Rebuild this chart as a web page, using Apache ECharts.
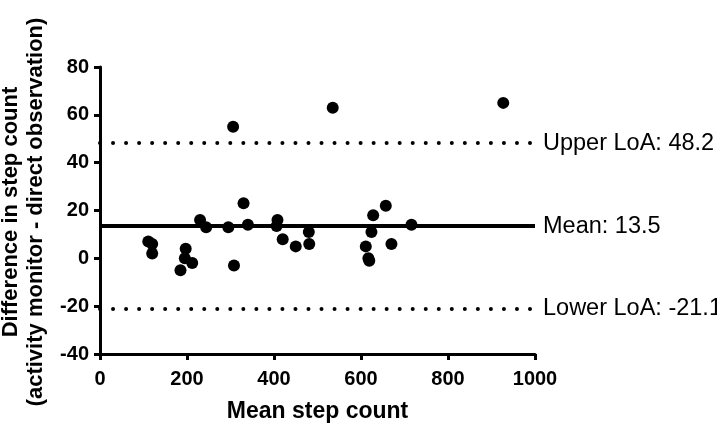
<!DOCTYPE html>
<html>
<head>
<meta charset="utf-8">
<script src="https://cdn.jsdelivr.net/npm/echarts@6/dist/echarts.min.js"></script>
<style>
html,body{margin:0;padding:0;background:#fff;}
#chart{width:717px;height:428px;}
</style>
</head>
<body>
<div id="chart"></div>
<script>
// Mean step count (x) and difference (y) for each participant
var meanSteps = [111, 120, 120, 185, 195, 197, 212, 230, 244, 295, 306, 308, 330, 340, 406, 408, 420, 450, 480, 481, 535, 611, 617, 619, 624, 628, 657, 670, 716, 927];
var diffSteps = [7, 6, 2, -5, 0, 4, -2, 16, 13, 13, 55, -3, 23, 14, 13.5, 16, 8, 5, 11, 6, 63, 5, 0, -1, 11, 18, 22, 6, 14, 65];

var meanDiff = 13.5;
var upperLoA = 48.2;
var lowerLoA = -21.1;

var xTicks = [0, 200, 400, 600, 800, 1000];
var yTicks = [-40, -20, 0, 20, 40, 60, 80];

var xTitle = 'Mean step count';
var yTitleLines = ['Difference in step count', '(activity monitor - direct observation)'];

var points = meanSteps.map(function (x, i) { return [x, diffSteps[i]]; });

var chart = echarts.init(document.getElementById('chart'), null, {renderer: 'canvas'});

var FONT = 'Liberation Sans, Arial, sans-serif';

var axisCommon = {
  axisLine: {show: true, onZero: false, lineStyle: {color: '#000', width: 3}},
  axisTick: {show: true, inside: false, length: 6, lineStyle: {color: '#000', width: 3}},
  splitLine: {show: false},
  axisLabel: {color: '#000', fontFamily: FONT, fontWeight: 'bold', fontSize: 20, margin: 10,
    formatter: function (v) { return String(v); }}
};

var lblStyle = {color: '#000', fontFamily: FONT, fontSize: 23.5, position: 'end', distance: 8, align: 'left'};

chart.setOption({
  animation: false,
  backgroundColor: '#fff',
  grid: {left: 100, right: 182, top: 67, bottom: 71, containLabel: false},
  xAxis: Object.assign({}, axisCommon, {
    type: 'value', min: xTicks[0], max: xTicks[xTicks.length - 1], interval: 200,
    name: xTitle, nameLocation: 'middle', nameGap: 46,
    nameTextStyle: {color: '#000', fontFamily: FONT, fontWeight: 'bold', fontSize: 23},
    axisLabel: Object.assign({}, axisCommon.axisLabel, {margin: 15})
  }),
  yAxis: Object.assign({}, axisCommon, {
    type: 'value', min: yTicks[0], max: yTicks[yTicks.length - 1], interval: 20,
    axisLabel: Object.assign({}, axisCommon.axisLabel, {margin: 11})
  }),
  graphic: [{
    type: 'text',
    x: 23, y: 212,
    rotation: Math.PI / 2,
    style: {
      text: yTitleLines.join('\n'),
      fill: '#000',
      font: 'bold 22px "Liberation Sans", Arial, sans-serif',
      lineHeight: 25,
      textAlign: 'center',
      textVerticalAlign: 'middle'
    }
  }],
  series: [{
    type: 'scatter',
    data: points,
    symbol: 'circle',
    symbolSize: 12,
    itemStyle: {color: '#000', opacity: 1},
    z: 5,
    markLine: {
      silent: true,
      symbol: ['none', 'none'],
      animation: false,
      data: [
        [{coord: [xTicks[0], meanDiff], lineStyle: {color: '#000', width: 4, type: 'solid', opacity: 1},
          label: Object.assign({}, lblStyle, {formatter: 'Mean: ' + meanDiff})},
         {coord: [xTicks[xTicks.length - 1], meanDiff]}],
        [{coord: [xTicks[0], upperLoA], lineStyle: {color: '#000', width: 4, type: [0, 13.03], cap: 'round', opacity: 1},
          label: Object.assign({}, lblStyle, {formatter: 'Upper LoA: ' + upperLoA})},
         {coord: [xTicks[xTicks.length - 1], upperLoA]}],
        [{coord: [xTicks[0], lowerLoA], lineStyle: {color: '#000', width: 4, type: [0, 13.03], cap: 'round', opacity: 1},
          label: Object.assign({}, lblStyle, {formatter: 'Lower LoA: ' + lowerLoA})},
         {coord: [xTicks[xTicks.length - 1], lowerLoA]}]
      ]
    }
  }]
});
</script>
</body>
</html>
